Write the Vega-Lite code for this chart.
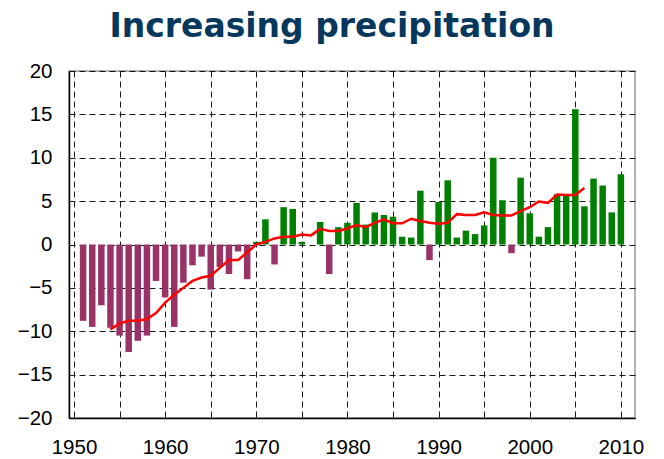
{
  "$schema": "https://vega.github.io/schema/vega-lite/v6.json",
  "width": 566,
  "height": 347,
  "autosize": {"type": "none"},
  "padding": {"left": 69, "top": 71, "right": 29, "bottom": 41},
  "background": "white",
  "title": {
    "text": "Increasing precipitation",
    "font": "DejaVu Sans",
    "fontSize": 33,
    "fontWeight": "bold",
    "color": "#06375c",
    "anchor": "middle",
    "dx": -20,
    "offset": 17
  },
  "config": {
    "view": {"stroke": "#999999", "strokeWidth": 1.5},
    "axis": {
      "labelFont": "Liberation Sans, Arial, Helvetica, sans-serif",
      "labelFontSize": 20.5,
      "labelColor": "#000000",
      "ticks": false,
      "domainColor": "#000000",
      "domainWidth": 1.5,
      "gridColor": "#000000",
      "gridDash": [6, 4],
      "gridWidth": 1,
      "gridOpacity": 0.9,
      "title": null
    }
  },
  "datasets": {
    "bars": [
      {"year": 1951, "value": -8.8}, {"year": 1952, "value": -9.5}, {"year": 1953, "value": -7.0},
      {"year": 1954, "value": -9.6}, {"year": 1955, "value": -10.5}, {"year": 1956, "value": -12.4},
      {"year": 1957, "value": -11.1}, {"year": 1958, "value": -10.5}, {"year": 1959, "value": -4.2},
      {"year": 1960, "value": -6.1}, {"year": 1961, "value": -9.5}, {"year": 1962, "value": -4.4},
      {"year": 1963, "value": -2.4}, {"year": 1964, "value": -1.4}, {"year": 1965, "value": -5.2},
      {"year": 1966, "value": -2.6}, {"year": 1967, "value": -3.4}, {"year": 1968, "value": -0.8},
      {"year": 1969, "value": -4.0}, {"year": 1970, "value": 0.3}, {"year": 1971, "value": 2.9},
      {"year": 1972, "value": -2.3}, {"year": 1973, "value": 4.3}, {"year": 1974, "value": 4.1},
      {"year": 1975, "value": 0.3}, {"year": 1976, "value": 0.0}, {"year": 1977, "value": 2.6},
      {"year": 1978, "value": -3.4}, {"year": 1979, "value": 2.0}, {"year": 1980, "value": 2.5},
      {"year": 1981, "value": 4.8}, {"year": 1982, "value": 2.3}, {"year": 1983, "value": 3.7},
      {"year": 1984, "value": 3.4}, {"year": 1985, "value": 3.2}, {"year": 1986, "value": 0.9},
      {"year": 1987, "value": 0.8}, {"year": 1988, "value": 6.2}, {"year": 1989, "value": -1.8},
      {"year": 1990, "value": 4.9}, {"year": 1991, "value": 7.4}, {"year": 1992, "value": 0.8},
      {"year": 1993, "value": 1.6}, {"year": 1994, "value": 1.2}, {"year": 1995, "value": 2.2},
      {"year": 1996, "value": 10.0}, {"year": 1997, "value": 5.1}, {"year": 1998, "value": -1.0},
      {"year": 1999, "value": 7.7}, {"year": 2000, "value": 3.6}, {"year": 2001, "value": 0.9},
      {"year": 2002, "value": 2.0}, {"year": 2003, "value": 5.8}, {"year": 2004, "value": 5.7},
      {"year": 2005, "value": 15.6}, {"year": 2006, "value": 4.4}, {"year": 2007, "value": 7.6},
      {"year": 2008, "value": 6.8}, {"year": 2009, "value": 3.7}, {"year": 2010, "value": 8.1}
    ],
    "mean": [
      {"year": 1954, "value": -9.8}, {"year": 1955, "value": -9.1}, {"year": 1956, "value": -8.8},
      {"year": 1957, "value": -8.8}, {"year": 1958, "value": -8.6}, {"year": 1959, "value": -7.9},
      {"year": 1960, "value": -6.7}, {"year": 1961, "value": -5.8}, {"year": 1962, "value": -5.0},
      {"year": 1963, "value": -4.2}, {"year": 1964, "value": -3.8}, {"year": 1965, "value": -3.6},
      {"year": 1966, "value": -2.7}, {"year": 1967, "value": -1.8}, {"year": 1968, "value": -1.8},
      {"year": 1969, "value": -0.9}, {"year": 1970, "value": 0.0}, {"year": 1971, "value": 0.3},
      {"year": 1972, "value": 0.7}, {"year": 1973, "value": 0.9}, {"year": 1974, "value": 0.9},
      {"year": 1975, "value": 1.15}, {"year": 1976, "value": 1.05}, {"year": 1977, "value": 1.8},
      {"year": 1978, "value": 1.55}, {"year": 1979, "value": 1.55}, {"year": 1980, "value": 1.85},
      {"year": 1981, "value": 2.25}, {"year": 1982, "value": 2.0}, {"year": 1983, "value": 2.5},
      {"year": 1984, "value": 2.9}, {"year": 1985, "value": 2.45}, {"year": 1986, "value": 2.45},
      {"year": 1987, "value": 2.97}, {"year": 1988, "value": 2.7}, {"year": 1989, "value": 2.5},
      {"year": 1990, "value": 2.4}, {"year": 1991, "value": 2.5}, {"year": 1992, "value": 3.5},
      {"year": 1993, "value": 3.4}, {"year": 1994, "value": 3.4}, {"year": 1995, "value": 3.7},
      {"year": 1996, "value": 3.4}, {"year": 1997, "value": 3.35}, {"year": 1998, "value": 3.35},
      {"year": 1999, "value": 3.85}, {"year": 2000, "value": 4.3}, {"year": 2001, "value": 4.95},
      {"year": 2002, "value": 4.8}, {"year": 2003, "value": 5.75}, {"year": 2004, "value": 5.7},
      {"year": 2005, "value": 5.7}, {"year": 2006, "value": 6.5}
    ]
  },
  "layer": [
    {
      "data": {"name": "bars"},
      "mark": {"type": "bar", "size": 6.5},
      "encoding": {
        "x": {
          "field": "year", "type": "quantitative",
          "scale": {"domain": [1950, 2011], "nice": false, "zero": false},
          "axis": {
            "values": [1950, 1955, 1960, 1965, 1970, 1975, 1980, 1985, 1990, 1995, 2000, 2005, 2010],
            "labelExpr": "datum.value % 10 == 0 ? datum.label : ''",
            "format": "d",
            "labelPadding": 19,
            "labelFlush": false,
            "labelOverlap": false,
            "grid": true
          }
        },
        "y": {
          "field": "value", "type": "quantitative",
          "scale": {"domain": [-20, 20], "nice": false},
          "axis": {
            "values": [-20, -15, -10, -5, 0, 5, 10, 15, 20],
            "labelPadding": 17,
            "grid": true
          }
        },
        "color": {
          "condition": {"test": "datum.value < 0", "value": "#993366"},
          "value": "#008000"
        }
      }
    },
    {
      "mark": {"type": "rule", "color": "#000000", "strokeWidth": 1.5},
      "encoding": {"y": {"datum": 0}}
    },
    {
      "data": {"name": "mean"},
      "mark": {"type": "line", "color": "#ff0000", "strokeWidth": 2.5},
      "encoding": {
        "x": {"field": "year", "type": "quantitative"},
        "y": {"field": "value", "type": "quantitative"}
      }
    }
  ]
}
